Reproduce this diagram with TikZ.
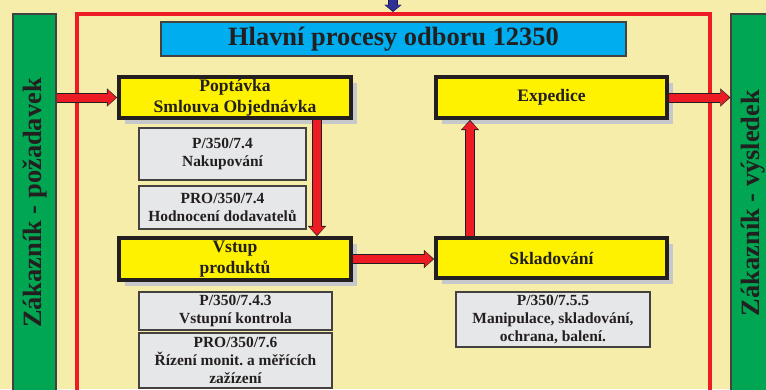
\documentclass[tikz,border=0pt]{standalone}
\usepackage{fontspec}
\setmainfont{Liberation Serif}
\usepackage{xcolor}
\usepackage{tikz}
\usetikzlibrary{arrows.meta, shadows}
\definecolor{bgcream}{HTML}{F7EDAB}
\definecolor{inkdark}{HTML}{231F20}
\definecolor{barGreen}{HTML}{00A651}
\definecolor{flowRed}{HTML}{ED1C24}
\definecolor{titleCyan}{HTML}{00AEEF}
\definecolor{procYellow}{HTML}{FFF200}
\definecolor{docGrey}{HTML}{E6E7E8}
\definecolor{shadowGrey}{HTML}{C7C8CA}
\definecolor{inBlue}{HTML}{2E3192}
\definecolor{inNavy}{HTML}{1B1464}
\tikzset{
  procnode/.style={rectangle,draw=inkdark,fill=procYellow,line width=1mm,inner sep=0pt,
    minimum width=5.8cm,align=center,text=inkdark,
    font=\fontsize{12.5}{14.6}\selectfont\bfseries,
    drop shadow={shadow xshift=0.16cm,shadow yshift=-0.16cm,fill=shadowGrey,opacity=1}},
  docnode/.style={rectangle,draw=inkdark!85,fill=docGrey,line width=0.3mm,inner sep=0pt,
    align=center,text=inkdark,font=\fontsize{11}{12.8}\selectfont\bfseries},
  custbar/.style={rectangle,draw=inkdark!85,fill=barGreen,line width=0.35mm,inner sep=0pt,
    minimum width=1.075cm,minimum height=9.45cm,text=inkdark,
    font=\fontsize{18.8}{20}\selectfont\bfseries},
  titlebox/.style={rectangle,draw=inkdark!85,fill=titleCyan,line width=0.3mm,inner sep=0pt,
    minimum width=11.625cm,minimum height=0.85cm,text=inkdark,
    font=\fontsize{18.8}{20}\selectfont\bfseries},
  frameline/.style={rectangle,draw=flowRed,line width=1mm,inner sep=0pt},
  flowarr/.style={line width=2mm,draw=flowRed,shorten >=0.3mm,
    -{Triangle[length=2mm,width=3.9mm,line width=0.1pt]},
    preaction={draw=inkdark,line width=2.5mm,shorten >=0pt,
      -{Triangle[length=2.5mm,width=4.5mm,line width=0.1pt]}}},
  inarr/.style={line width=2mm,draw=inBlue,shorten >=0.3mm,
    -{Triangle[length=1.4mm,width=3.8mm,line width=0.1pt]},
    preaction={draw=inNavy,line width=2.5mm,shorten >=0pt,
      -{Triangle[length=1.8mm,width=4.3mm,line width=0.1pt]}}},
}

\begin{document}
\begin{tikzpicture}[x=0.025cm,y=-0.025cm]
  \useasboundingbox (0,0) rectangle (766,389);
  \clip (0,0) rectangle (766,389);
  \fill[bgcream] (0,0) rectangle (766,389);
  % red frame round the department processes
  \node[frameline,minimum width=15.81cm,minimum height=9.65cm] (nFrame) at (393.25,207) {};
  \node[custbar] (nLeft) at (34.5,203) {\rotatebox{90}{Zákazník - požadavek}};
  \node[custbar,minimum width=1.1cm] (nRight) at (753,203) {\rotatebox{90}{Zákazník - výsledek}};
  \node[titlebox] (nTitle) at (393.5,39) {Hlavní procesy odboru 12350};
  \node[procnode,minimum height=1.025cm] (nPop) at (235,97.5) {Poptávka\\Smlouva Objednávka};
  \node[procnode,minimum width=5.775cm,minimum height=1.025cm] (nExp) at (551.5,97.5) {Expedice};
  \node[procnode,minimum height=1.05cm] (nVst) at (235,259) {Vstup\\produktů};
  \node[procnode,minimum width=5.775cm,minimum height=1.0cm] (nSkl) at (551.5,258) {Skladování};
  \node[docnode,minimum width=4.175cm,minimum height=1.3cm] (dNak) at (222.5,154) {P/350/7.4\\Nakupování};
  \node[docnode,minimum width=4.175cm,minimum height=1.075cm] (dHod) at (222.5,207.5) {PRO/350/7.4\\Hodnocení dodavatelů};
  \node[docnode,minimum width=4.825cm,minimum height=0.95cm] (dVst) at (235.5,311) {P/350/7.4.3\\Vstupní kontrola};
  \node[docnode,minimum width=4.825cm,minimum height=1.375cm] (dMer) at (235.5,360.5) {PRO/350/7.6\\Řízení monit.\ a měřících\\zažízení};
  \node[docnode,minimum width=4.85cm,minimum height=1.375cm] (dMan) at (553,319.5) {P/350/7.5.5\\Manipulace, skladování,\\ochrana, balení.};
  \coordinate (pDown) at ([xshift=-0.9cm]nPop.south east);
  \coordinate (sUp) at ([xshift=0.9cm]nSkl.north west);
  \coordinate (tIn) at (393,-4);
  \draw[flowarr] (nLeft.east |- nPop.west) -- (nPop.west);
  \draw[flowarr] (pDown) -- (pDown |- nVst.north);
  \draw[flowarr] (nVst.east) -- (nVst.east -| nSkl.west);
  \draw[flowarr] (sUp) -- (sUp |- nExp.south);
  \draw[flowarr] (nExp.east) -- (nExp.east -| nRight.west);
  \draw[inarr] (tIn) -- (tIn |- nFrame.north);
\end{tikzpicture}
\end{document}
